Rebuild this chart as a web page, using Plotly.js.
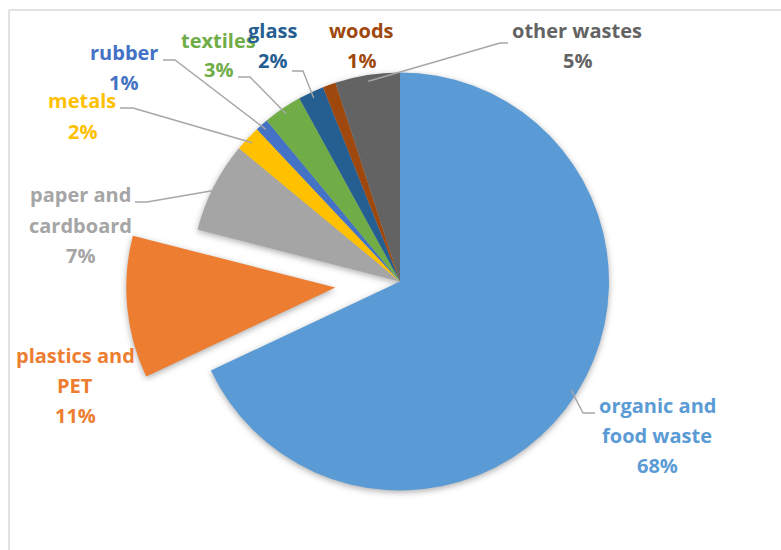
<!DOCTYPE html>
<html><head><meta charset="utf-8">
<script src="https://cdn.plot.ly/plotly-3.0.1.min.js"></script>
<style>
html,body{margin:0;padding:0;background:#fff;overflow:hidden}
#chart{width:781px;height:550px}
.pielayer g.trace{filter:drop-shadow(0px 2px 3px rgba(0,0,0,0.32));}
</style></head>
<body><div id="chart"></div>
<script>
// ---- data ----
const categories = ["organic and\nfood waste", "plastics and\nPET", "paper and\ncardboard", "metals", "rubber", "textiles", "glass", "woods", "other wastes"];
const percents = [68, 11, 7, 2, 1, 3, 2, 1, 5];
const colors = ["#5B9BD5", "#ED7D31", "#A5A5A5", "#FFC000", "#4472C4", "#70AD47", "#255E91", "#9E480E", "#636363"];
const explodedCategory = "plastics and\nPET";

// ---- layout constants (pixels) ----
const W = 781, H = 550;
const cx = 400, cy = 281.5, R = 209, pullPx = 65;
const labelPos = [[657, 405], [75, 355], [80, 195], [82, 101], [124, 53], [218, 40], [272, 30], [361, 30], [577, 30]];
const lineGap = 30;
// leader: [x at label, y, x elbow] or null
const leaders = [[595, 413, 583], null, [135, 202, 147], [120, 108, 133], [163, 60, 175], [238, 77, 250], [292, 71, 303], null, [508, 43, 500]];

const px = x => x / W, py = y => 1 - y / H;
const names = categories.map(c => c.replace("\n", " "));
const total = percents.reduce((a, b) => a + b, 0);
const mids = []; let cum = 0;
percents.forEach(v => { mids.push((cum + v / 2) / total * 2 * Math.PI); cum += v; });
const exIdx = categories.indexOf(explodedCategory);

const domMain = {x: [px(cx - R), px(cx + R)], y: [py(cy + R), py(cy - R)]};
const ex = cx + pullPx * Math.sin(mids[exIdx]), ey = cy - pullPx * Math.cos(mids[exIdx]);
const domEx = {x: [px(ex - R), px(ex + R)], y: [py(ey + R), py(ey - R)]};

const common = {type: 'pie', labels: names, values: percents, sort: false, direction: 'clockwise', rotation: 0,
  textinfo: 'none', hoverinfo: 'label+percent', showlegend: false};
const traces = [
  Object.assign({}, common, {domain: domMain,
    marker: {colors: colors.map((c, i) => i === exIdx ? 'rgba(0,0,0,0)' : c), line: {width: 0}}}),
  Object.assign({}, common, {domain: domEx,
    marker: {colors: colors.map((c, i) => i === exIdx ? c : 'rgba(0,0,0,0)'), line: {width: 0}}})
];

const annotations = [];
categories.forEach((c, i) => {
  const lines = c.split("\n").concat([percents[i] + "%"]);
  lines.forEach((t, k) => {
    annotations.push({xref: 'paper', yref: 'paper', x: px(labelPos[i][0]), y: py(labelPos[i][1] + k * lineGap),
      text: t, showarrow: false, xanchor: 'center', yanchor: 'middle',
      font: {family: '"Open Sans", Lato, sans-serif', size: 20, weight: 700, color: colors[i]}});
  });
});

const shapes = [
  {type: 'line', xref: 'paper', yref: 'paper', x0: px(9), x1: px(9), y0: py(10), y1: 0, line: {color: '#D9D9D9', width: 1.5}},
  {type: 'line', xref: 'paper', yref: 'paper', x0: px(9), x1: 1, y0: py(10), y1: py(10), line: {color: '#D9D9D9', width: 1.5}}
];
leaders.forEach((l, i) => {
  if (!l) return;
  const k = 0.97;
  const sx = cx + k * R * Math.sin(mids[i]), sy = cy - k * R * Math.cos(mids[i]);
  shapes.push({type: 'path', xref: 'paper', yref: 'paper',
    path: `M ${px(l[0])},${py(l[1])} L ${px(l[2])},${py(l[1])} L ${px(sx)},${py(sy)}`,
    line: {color: '#A6A6A6', width: 1.4}});
});

Plotly.newPlot('chart', traces, {
  width: W, height: H, margin: {l: 0, r: 0, t: 0, b: 0},
  paper_bgcolor: '#ffffff', plot_bgcolor: '#ffffff',
  annotations: annotations, shapes: shapes
}, {displayModeBar: false, staticPlot: true});
</script></body></html>
